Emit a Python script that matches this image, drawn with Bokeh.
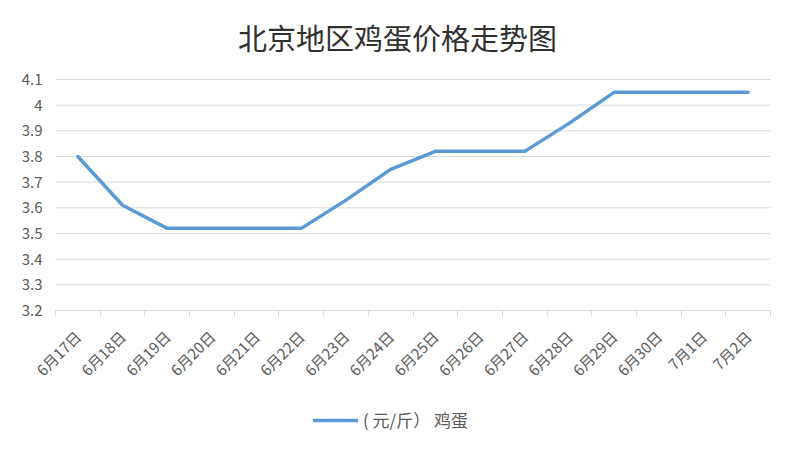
from bokeh.plotting import figure
from bokeh.models import (Range1d, FixedTicker, NumeralTickFormatter, Legend, LegendItem,
                          ColumnDataSource, Label)
from bokeh.embed import file_html
from bokeh.resources import INLINE
import math

# ---- data ----
dates = ["6月17日", "6月18日", "6月19日", "6月20日", "6月21日", "6月22日", "6月23日", "6月24日",
         "6月25日", "6月26日", "6月27日", "6月28日", "6月29日", "6月30日", "7月1日", "7月2日"]
prices = [3.80, 3.61, 3.52, 3.52, 3.52, 3.52, 3.63, 3.75,
          3.82, 3.82, 3.82, 3.93, 4.05, 4.05, 4.05, 4.05]
y_ticks = [3.2, 3.3, 3.4, 3.5, 3.6, 3.7, 3.8, 3.9, 4.0, 4.1]
series_name = "( 元/斤） 鸡蛋"
title_text = "北京地区鸡蛋价格走势图"

FONT = "Noto Sans CJK SC"
LABEL_COLOR = "#595959"
GRID_COLOR = "#d9d9d9"
LINE_COLOR = "#5b9bd5"

# ---- layout (pixels) ----
W, H = 794, 452
PLOT_L, PLOT_R, PLOT_T, PLOT_B = 55, 770, 79, 310   # plot area in canvas pixels
TITLE_CX, TITLE_CY = 397, 36
LEGEND_X, LEGEND_Y = 313, 20                         # legend offset from canvas bottom-left

n = len(dates)
y_lo, y_hi = y_ticks[0], y_ticks[-1]
px_x = (PLOT_R - PLOT_L) / n
px_y = (PLOT_B - PLOT_T) / (y_hi - y_lo)
x_start = -PLOT_L / px_x
x_end = n + (W - PLOT_R) / px_x
y_end = y_hi + PLOT_T / px_y
y_start = y_lo - (H - PLOT_B) / px_y

centers = [i + 0.5 for i in range(n)]
bounds = list(range(n + 1))

src = ColumnDataSource(dict(x=centers, price=prices, date=dates))
grid_src = ColumnDataSource(dict(x0=[0] * len(y_ticks), x1=[n] * len(y_ticks),
                                 y=y_ticks))

p = figure(width=W, height=H, output_backend="svg", toolbar_location=None, title=None,
           x_range=Range1d(x_start, x_end), y_range=Range1d(y_start, y_end),
           min_border_left=0, min_border_right=0, min_border_top=0, min_border_bottom=0)

p.outline_line_color = None
p.background_fill_color = "white"
p.border_fill_color = "white"
p.xgrid.grid_line_color = None
p.ygrid.grid_line_color = None

# horizontal gridlines across the plot area only
p.segment(x0="x0", x1="x1", y0="y", y1="y", source=grid_src,
          line_color=GRID_COLOR, line_width=1)

# y axis (anchored at the left edge of the plot area)
p.yaxis.fixed_location = 0
p.yaxis.bounds = (y_lo, y_hi)
p.yaxis.ticker = FixedTicker(ticks=y_ticks)
p.yaxis.formatter = NumeralTickFormatter(format="0.[0]")
p.yaxis.axis_line_color = None
p.yaxis.major_tick_line_color = None
p.yaxis.minor_tick_line_color = None
p.yaxis.major_tick_out = 0
p.yaxis.major_tick_in = 0
p.yaxis.major_label_standoff = 13
p.yaxis.major_label_text_font = FONT
p.yaxis.major_label_text_font_size = "15px"
p.yaxis.major_label_text_color = LABEL_COLOR

# x axis (sits on the 3.2 line)
p.xaxis.fixed_location = y_lo
p.xaxis.bounds = (0, n)
p.xaxis.ticker = FixedTicker(ticks=centers, minor_ticks=bounds)
p.xaxis.major_label_overrides = {c: d for c, d in zip(centers, dates)}
p.xaxis.major_label_orientation = math.pi / 4
p.xaxis.axis_line_color = GRID_COLOR
p.xaxis.major_tick_line_color = None
p.xaxis.major_tick_out = 0
p.xaxis.major_tick_in = 0
p.xaxis.minor_tick_line_color = GRID_COLOR
p.xaxis.minor_tick_out = 6
p.xaxis.minor_tick_in = 0
p.xaxis.major_label_standoff = 17
p.xaxis.major_label_text_font = FONT
p.xaxis.major_label_text_font_size = "15px"
p.xaxis.major_label_text_color = LABEL_COLOR

r = p.line(x="x", y="price", source=src, line_width=3.5, line_color=LINE_COLOR,
           line_join="round", line_cap="round")

# title
title = Label(x=x_start + TITLE_CX / px_x, y=y_end - TITLE_CY / px_y, text=title_text,
              text_align="center", text_baseline="middle", text_font=FONT,
              text_font_size="29px", text_color="#303030")
p.add_layout(title)

legend = Legend(items=[LegendItem(label=series_name, renderers=[r])],
                location=(LEGEND_X, LEGEND_Y), orientation="horizontal",
                border_line_color=None, background_fill_alpha=0,
                label_text_font=FONT, label_text_font_size="17px",
                label_text_color=LABEL_COLOR, glyph_width=45, glyph_height=16,
                label_standoff=5, padding=0, margin=0)
p.add_layout(legend, "center")

open("out.html", "w").write(file_html(p, INLINE))
